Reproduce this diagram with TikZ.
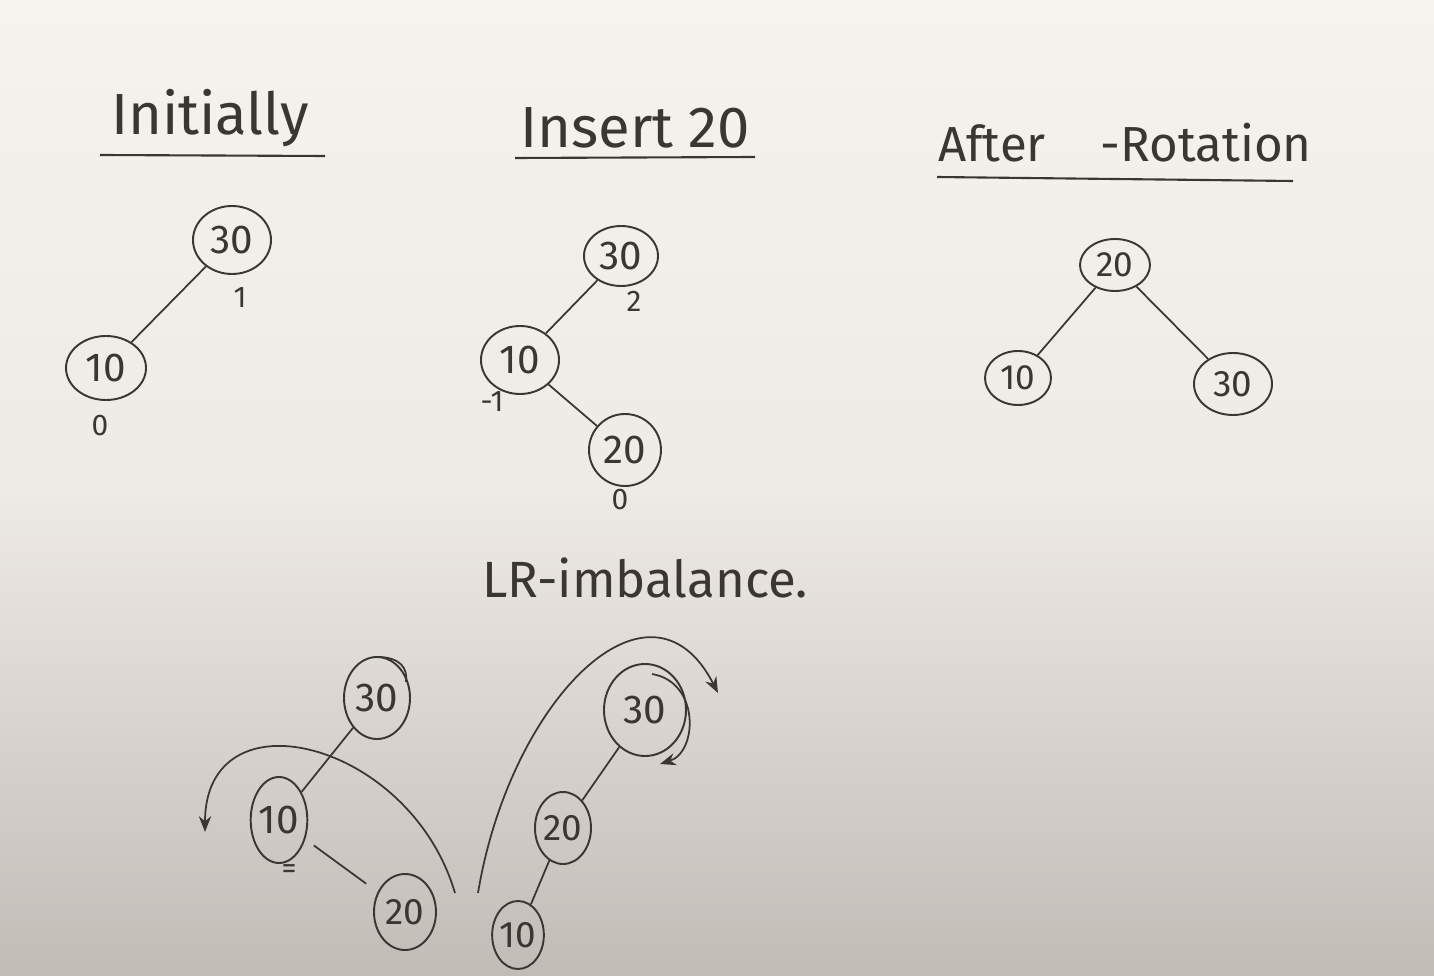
\documentclass[tikz,border=0pt]{standalone}
\usepackage{fontspec}
\setmainfont{Fira Sans}
\usetikzlibrary{shapes.geometric,arrows.meta,positioning}
\definecolor{ink}{RGB}{58,54,50}
\definecolor{boardtop}{RGB}{246,242,237}
\definecolor{boardmid}{RGB}{238,234,229}
\definecolor{boardbot}{RGB}{194,188,183}
\tikzstyle{key} = [draw=ink, ellipse, line width=1.1pt, inner sep=0pt,
    text=ink, font=\fontsize{23}{23}\selectfont]
\tikzstyle{title} = [text=ink, font=\fontsize{33}{33}\selectfont]
\tikzstyle{bal} = [text=ink, font=\fontsize{17}{17}\selectfont]
\tikzstyle{edge} = [draw=ink, line width=1pt]
\tikzstyle{rule} = [draw=ink, line width=1.2pt]
\tikzset{oval/.style 2 args={minimum width=#1*0.02cm, minimum height=#2*0.02cm}}

\begin{document}
\begin{tikzpicture}[x=0.02cm, y=-0.02cm, >={Stealth[length=9pt,width=7pt]}]
    % board
    \shade [top color=boardtop, bottom color=boardbot, middle color=boardmid]
        (0,0) rectangle (1434,976);

    % titles
    \node [title] (tinit) at (210,118) {Initially};
    \node [title] (tins) at (635,128) {Insert 20};
    \node [title, font=\fontsize{28}{28}\selectfont] (tafter) at (1125,143) {After\hspace{1.1cm}-Rotation};
    \draw [rule] (100,155) -- (325,156);
    \draw [rule] (515,158) -- (755,157);
    \draw [rule] (937,177) -- (1293,181);

    % initially
    \node [key, oval={78}{68}] (a30) at (232,240) {30};
    \node [key, oval={80}{64}] (a10) at (106,368) {10};
    \draw [edge] (a30) -- (a10);
    \node [bal] (a30b) at (240,298) {1};
    \node [bal] (a10b) at (100,426) {0};

    % insert 20
    \node [key, oval={74}{60}] (b30) at (621,256) {30};
    \node [key, oval={78}{68}] (b10) at (520,360) {10};
    \node [key, oval={72}{72}] (b20) at (625,450) {20};
    \draw [edge] (b30) -- (b10);
    \draw [edge] (b10) -- (b20);
    \node [bal] (b30b) at (634,301) {2};
    \node [bal] (b10b) at (492,402) {-1};
    \node [bal] (b20b) at (620,500) {0};

    % after rotation
    \node [key, oval={70}{52}, font=\fontsize{20}{20}\selectfont] (c20) at (1115,265) {20};
    \node [key, oval={66}{54}, font=\fontsize{20}{20}\selectfont] (c10) at (1018,378) {10};
    \node [key, oval={78}{62}, font=\fontsize{21}{21}\selectfont] (c30) at (1233,384) {30};
    \draw [edge] (c20) -- (c10);
    \draw [edge] (c20) -- (c30);

    % LR imbalance
    \node [title, font=\fontsize{29}{29}\selectfont] (tlr) at (645,578) {LR-imbalance.};

    \node [key, oval={66}{82}] (d30) at (377,698) {30};
    \node [key, oval={54}{86}] (d10) at (279,820) {10};
    \node [key, oval={62}{76}, font=\fontsize{21}{21}\selectfont] (d20) at (405,912) {20};
    \draw [edge] (d30) -- (d10);
    \draw [edge, shorten <=6pt, shorten >=8pt] (d10) -- (d20);
    \node [bal] (d10b) at (289,872) {=};
    \draw [edge] (380,657) .. controls (400,658) and (408,668) .. (406,682);

    \node [key, oval={82}{92}] (e30) at (645,710) {30};
    \node [key, oval={56}{72}, font=\fontsize{21}{21}\selectfont] (e20) at (563,828) {20};
    \node [key, oval={50}{68}, font=\fontsize{21}{21}\selectfont] (e10) at (518,935) {10};
    \draw [edge] (e30) -- (e20);
    \draw [edge] (e20) -- (e10);

    % rotation arrows
    \coordinate (ls) at (455,893);
    \coordinate (le) at (205,832);
    \coordinate (rs) at (478,893);
    \coordinate (re) at (718,693);
    \coordinate (hs) at (652,674);
    \coordinate (he) at (660,764);
    \draw [edge, ->] (ls) .. controls (410,740) and (205,690) .. (le);
    \draw [edge, ->] (rs) .. controls (510,700) and (650,560) .. (re);
    \draw [edge, ->] (hs) .. controls (700,682) and (698,752) .. (he);
\end{tikzpicture}
\end{document}
